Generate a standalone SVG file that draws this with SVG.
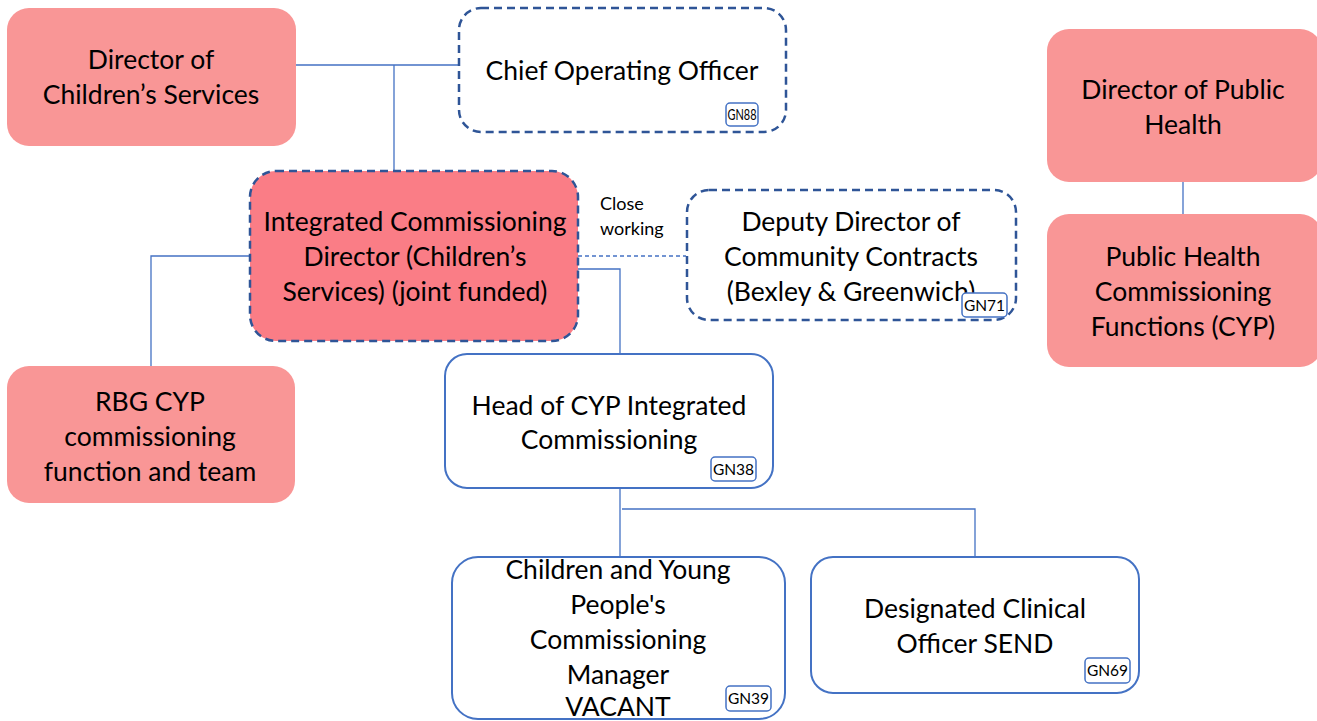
<svg xmlns="http://www.w3.org/2000/svg" width="1317" height="721" viewBox="0 0 1317 721">
<style>
text{font-family:"Lato","Liberation Sans",sans-serif;fill:#000;text-anchor:middle}
.t{font-size:26.5px}
.s{font-size:18px;text-anchor:start}
.tag{font-size:15.5px}
.pink{fill:#F99696;stroke:none}
.hot{fill:#FA7D86;stroke:#2F5597;stroke-width:2.5;stroke-dasharray:8 5}
.dash{fill:#fff;stroke:#2F5597;stroke-width:2.5;stroke-dasharray:8 5}
.solid{fill:#fff;stroke:#4472C4;stroke-width:2}
.tagbox{fill:#fff;stroke:#4472C4;stroke-width:1.5}
.ln{fill:none;stroke:#4472C4;stroke-width:1.3}
</style>
<g id="connectors">
<path class="ln" d="M296 65H459M394 65V203"/>
<path class="ln" d="M250 256H151V366"/>
<path class="ln" d="M578 269H620V368"/>
<path class="ln" d="M578 256H686" stroke-dasharray="4 3"/>
<path class="ln" d="M1183 182V215"/>
<path class="ln" d="M620 488V557M622 509H975V557"/>
</g>
<g id="dcs">
<rect class="pink" x="7" y="8" width="289" height="138" rx="22"/>
<text class="t" x="151" y="69">Director of</text>
<text class="t" x="151" y="104">Children’s Services</text>
</g>
<g id="coo">
<rect class="dash" x="459" y="8" width="327" height="124" rx="22"/>
<text class="t" x="622" y="80">Chief Operating Officer</text>
<rect class="tagbox" x="726" y="103" width="32" height="23" rx="4"/>
<text class="tag" x="742" y="120" textLength="29" lengthAdjust="spacingAndGlyphs">GN88</text>
</g>
<g id="icd">
<rect class="hot" x="250" y="171" width="328" height="170" rx="26"/>
<text class="t" x="415" y="231">Integrated Commissioning</text>
<text class="t" x="415" y="266">Director (Children’s</text>
<text class="t" x="415" y="301">Services) (joint funded)</text>
</g>
<g id="close-working">
<text class="s" x="600" y="210">Close</text>
<text class="s" x="600" y="235">working</text>
</g>
<g id="deputy">
<rect class="dash" x="687" y="190" width="329" height="130" rx="22"/>
<text class="t" x="851" y="231">Deputy Director of</text>
<text class="t" x="851" y="266">Community Contracts</text>
<text class="t" x="851" y="301">(Bexley &amp; Greenwich)</text>
<rect class="tagbox" x="962" y="293" width="45" height="24" rx="4"/>
<text class="tag" x="984.5" y="311">GN71</text>
</g>
<g id="dph">
<rect class="pink" x="1047" y="29" width="275" height="153" rx="22"/>
<text class="t" x="1183" y="99">Director of Public</text>
<text class="t" x="1183" y="134">Health</text>
</g>
<g id="phcf">
<rect class="pink" x="1047" y="214" width="275" height="153" rx="22"/>
<text class="t" x="1183" y="266">Public Health</text>
<text class="t" x="1183" y="301">Commissioning</text>
<text class="t" x="1183" y="336">Functions (CYP)</text>
</g>
<g id="rbg">
<rect class="pink" x="7" y="366" width="288" height="137" rx="22"/>
<text class="t" x="150" y="411">RBG CYP</text>
<text class="t" x="150" y="446">commissioning</text>
<text class="t" x="150" y="481">function and team</text>
</g>
<g id="head">
<rect class="solid" x="445" y="354" width="328" height="134" rx="22"/>
<text class="t" x="609" y="415">Head of CYP Integrated</text>
<text class="t" x="609" y="449">Commissioning</text>
<rect class="tagbox" x="711" y="457" width="45" height="24" rx="4"/>
<text class="tag" x="733.5" y="475">GN38</text>
</g>
<g id="cyp-manager">
<rect class="solid" x="452" y="557" width="333" height="162" rx="26"/>
<text class="t" x="618" y="579">Children and Young</text>
<text class="t" x="618" y="614">People's</text>
<text class="t" x="618" y="649">Commissioning</text>
<text class="t" x="618" y="684">Manager</text>
<text class="t" x="618" y="716">VACANT</text>
<rect class="tagbox" x="726" y="686" width="45" height="25" rx="4"/>
<text class="tag" x="748.5" y="704">GN39</text>
</g>
<g id="dco">
<rect class="solid" x="811" y="557" width="328" height="136" rx="22"/>
<text class="t" x="975" y="618">Designated Clinical</text>
<text class="t" x="975" y="653">Officer SEND</text>
<rect class="tagbox" x="1085" y="658" width="45" height="25" rx="4"/>
<text class="tag" x="1107.5" y="676">GN69</text>
</g>
</svg>
